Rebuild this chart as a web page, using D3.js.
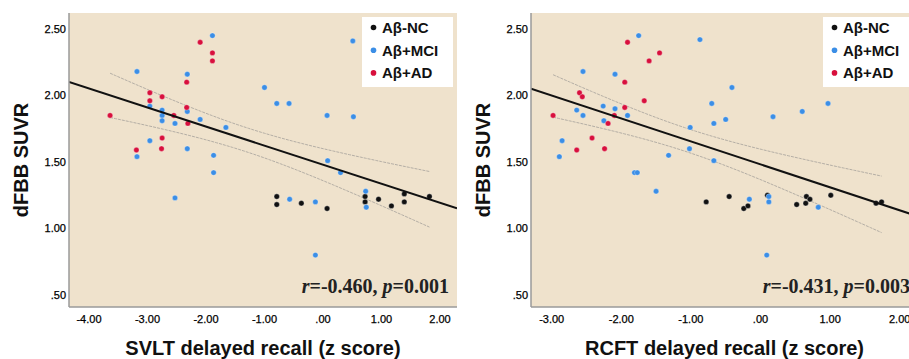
<!DOCTYPE html>
<html>
<head>
<meta charset="utf-8">
<script src="https://cdn.jsdelivr.net/npm/d3@7"></script>
<style>
  body { margin: 0; background: #fff; }
  svg { display: block; font-family: Arial, "Liberation Sans", sans-serif; }
</style>
</head>
<body>
<svg id="chart" width="909" height="359"></svg>
<script>
const groups = ['Aβ-NC', 'Aβ+MCI', 'Aβ+AD'];
const groupColors = ['#111111', '#3b8ee6', '#d8103d'];

const yTicks = [0.5, 1.0, 1.5, 2.0, 2.5];
const svltTicks = [-4, -3, -2, -1, 0, 1, 2];
const rcftTicks = [-3, -2, -1, 0, 1, 2];

// SVLT delayed recall (z) vs dFBB SUVR
const svltNC = [
  [-0.79, 1.24], [-0.79, 1.18], [-0.37, 1.19], [0.07, 1.15], [0.72, 1.24], [0.72, 1.20],
  [0.95, 1.22], [1.17, 1.17], [1.39, 1.26], [1.39, 1.20], [1.82, 1.24]
];
const svltMCI = [
  [-1.89, 2.45], [-3.18, 2.18], [-2.32, 2.16], [-2.96, 1.92], [-2.75, 1.89], [-2.75, 1.85],
  [-2.75, 1.81], [-2.32, 1.88], [-2.53, 1.79], [-2.10, 1.82], [-1.66, 1.76], [-2.96, 1.66],
  [-2.32, 1.60], [-3.18, 1.54], [-1.87, 1.55], [-1.87, 1.42], [-2.53, 1.23], [-1.00, 2.06],
  [0.51, 2.41], [-0.79, 1.94], [-0.58, 1.94], [0.07, 1.85], [0.52, 1.84], [0.08, 1.51],
  [0.30, 1.42], [0.73, 1.28], [0.74, 1.16], [-0.57, 1.22], [-0.13, 1.20], [-0.13, 0.80]
];
const svltAD = [
  [-2.10, 2.40], [-1.89, 2.32], [-1.89, 2.26], [-2.33, 2.10], [-2.96, 2.02], [-2.96, 1.96],
  [-2.75, 1.99], [-2.33, 1.91], [-2.55, 1.85], [-2.31, 1.79], [-3.64, 1.85], [-2.75, 1.68],
  [-3.19, 1.59], [-2.76, 1.60]
];

// RCFT delayed recall (z) vs dFBB SUVR
const rcftNC = [
  [-0.78, 1.20], [-0.45, 1.24], [-0.24, 1.15], [-0.18, 1.17], [0.52, 1.18], [0.66, 1.24],
  [0.71, 1.22], [0.65, 1.19], [1.01, 1.25], [1.66, 1.19], [1.74, 1.20], [0.10, 1.25]
];
const rcftMCI = [
  [-1.75, 2.45], [-0.87, 2.42], [-2.55, 2.18], [-2.09, 2.16], [-2.64, 1.89], [-2.55, 1.85],
  [-2.26, 1.92], [-2.09, 1.90], [-2.25, 1.81], [-1.91, 1.85], [-2.85, 1.66], [-2.89, 1.54],
  [-1.81, 1.42], [-1.77, 1.42], [-1.50, 1.28], [-1.32, 1.55], [-1.01, 1.76], [-1.02, 1.60],
  [-0.70, 1.94], [-0.67, 1.79], [-0.67, 1.51], [-0.41, 2.06], [-0.50, 1.82], [0.18, 1.84],
  [0.60, 1.88], [0.97, 1.94], [-0.16, 1.22], [0.12, 1.24], [0.12, 1.20], [0.83, 1.16],
  [0.09, 0.80]
];
const rcftAD = [
  [-1.91, 2.40], [-1.45, 2.32], [-1.60, 2.26], [-1.95, 2.10], [-1.67, 1.96], [-2.60, 2.02],
  [-2.56, 1.99], [-1.95, 1.91], [-2.10, 1.85], [-2.19, 1.79], [-2.98, 1.85], [-2.42, 1.68],
  [-2.64, 1.59], [-2.24, 1.60]
];

const svltStat = ['-0.460', '0.001'];
const rcftStat = ['-0.431', '0.003'];

const panels = [
  { left: 69, right: 457, xDomain: [-4.342, 2.291], ticks: svltTicks,
    title: 'SVLT delayed recall (z score)', series: [svltNC, svltMCI, svltAD], stat: svltStat },
  { left: 531, right: 918, xDomain: [-3.297, 2.263], ticks: rcftTicks,
    title: 'RCFT delayed recall (z score)', series: [rcftNC, rcftMCI, rcftAD], stat: rcftStat }
];

const plotTop = 13, plotBottom = 307;
const svg = d3.select('#chart');
const fmt = v => v.toFixed(2).replace(/^0\./, '.');

// least squares fit + 95% confidence band of the mean
function fitLine(pts) {
  const n = pts.length;
  const mx = d3.mean(pts, d => d[0]);
  const my = d3.mean(pts, d => d[1]);
  const sxx = d3.sum(pts, d => (d[0] - mx) ** 2);
  const sxy = d3.sum(pts, d => (d[0] - mx) * (d[1] - my));
  const b = sxy / sxx;
  const a = my - b * mx;
  const sse = d3.sum(pts, d => (d[1] - a - b * d[0]) ** 2);
  const s = Math.sqrt(sse / (n - 2));
  const t = 2.007;
  const half = x => t * s * Math.sqrt(1 / n + (x - mx) ** 2 / sxx);
  return { a, b, half, ext: d3.extent(pts, d => d[0]) };
}

panels.forEach((p, i) => {
  const x = d3.scaleLinear().domain(p.xDomain).range([p.left, p.right]);
  const y = d3.scaleLinear().domain([0.4098, 2.62]).range([plotBottom, plotTop]);
  const g = svg.append('g');

  g.append('rect')
    .attr('x', p.left).attr('y', plotTop)
    .attr('width', p.right - p.left).attr('height', plotBottom - plotTop)
    .attr('fill', '#efe2cc');

  const clipId = 'clip' + i;
  g.append('clipPath').attr('id', clipId)
    .append('rect')
    .attr('x', p.left).attr('y', plotTop)
    .attr('width', p.right - p.left).attr('height', plotBottom - plotTop);
  const plot = g.append('g').attr('clip-path', `url(#${clipId})`);

  // fit and band
  const all = [].concat(...p.series);
  const f = fitLine(all);
  const bandX = d3.range(61).map(k => f.ext[0] + (f.ext[1] - f.ext[0]) * k / 60);
  const lineGen = d3.line().x(d => x(d[0])).y(d => y(d[1]));
  [1, -1].forEach(sign => {
    plot.append('path')
      .attr('d', lineGen(bandX.map(v => [v, f.a + f.b * v + sign * f.half(v)])))
      .attr('fill', 'none')
      .attr('stroke', '#b4aea5')
      .attr('stroke-width', 1)
      .attr('stroke-dasharray', '3,1');
  });

  // points
  p.series.forEach((pts, k) => {
    plot.selectAll(null).data(pts).enter().append('circle')
      .attr('cx', d => x(d[0])).attr('cy', d => y(d[1]))
      .attr('r', 2.7)
      .attr('fill', groupColors[k])
      .attr('stroke', '#fff').attr('stroke-opacity', 0.5).attr('stroke-width', 0.6);
  });

  plot.append('path')
    .attr('d', lineGen(p.xDomain.map(v => [v, f.a + f.b * v])))
    .attr('fill', 'none')
    .attr('stroke', '#111')
    .attr('stroke-width', 2);

  // axes lines
  g.append('line').attr('x1', p.left).attr('x2', p.left).attr('y1', plotTop).attr('y2', plotBottom)
    .attr('stroke', '#9a9a9a').attr('stroke-width', 1.5);
  g.append('line').attr('x1', p.left).attr('x2', p.right).attr('y1', plotBottom).attr('y2', plotBottom)
    .attr('stroke', '#9a9a9a').attr('stroke-width', 1.5);

  g.selectAll(null).data(yTicks).enter().append('text')
    .attr('x', p.left - 3).attr('y', d => y(d) + 4)
    .attr('text-anchor', 'end')
    .attr('font-size', 11).attr('fill', '#000')
    .attr('stroke', '#000').attr('stroke-width', 0.25)
    .text(fmt);

  g.selectAll(null).data(p.ticks).enter().append('text')
    .attr('x', d => x(d)).attr('y', 323)
    .attr('text-anchor', 'middle')
    .attr('font-size', 11).attr('fill', '#000')
    .attr('stroke', '#000').attr('stroke-width', 0.25)
    .text(fmt);

  // axis titles
  g.append('text')
    .attr('transform', `translate(${p.left - 41},160) rotate(-90)`)
    .attr('text-anchor', 'middle')
    .attr('font-size', 20).attr('font-weight', 'bold').attr('fill', '#111')
    .text('dFBB SUVR');
  g.append('text')
    .attr('x', (p.left + p.right) / 2).attr('y', 355)
    .attr('text-anchor', 'middle')
    .attr('font-size', 20).attr('font-weight', 'bold').attr('fill', '#111')
    .text(p.title);

  // stat annotation
  const st = g.append('text')
    .attr('x', p.right - 8).attr('y', 293)
    .attr('text-anchor', 'end')
    .attr('font-family', '"Liberation Serif", "Times New Roman", serif')
    .attr('font-size', 20).attr('font-weight', 'bold').attr('fill', '#222');
  st.append('tspan').attr('font-style', 'italic').text('r');
  st.append('tspan').text('=' + p.stat[0] + ', ');
  st.append('tspan').attr('font-style', 'italic').text('p');
  st.append('tspan').text('=' + p.stat[1]);

  // legend
  const lx = p.right - 95, ly = 17;
  g.append('rect').attr('x', lx).attr('y', ly).attr('width', 91).attr('height', 70).attr('fill', '#fff');
  groups.forEach((name, k) => {
    const ry = ly + 10.5 + k * 22.7;
    g.append('circle').attr('cx', lx + 11.5).attr('cy', ry).attr('r', 2.8).attr('fill', groupColors[k]);
    g.append('text').attr('x', lx + 20).attr('y', ry + 5.5)
      .attr('font-size', 15).attr('font-weight', 'bold').attr('fill', '#111')
      .text(name);
  });
});
</script>
</body>
</html>
